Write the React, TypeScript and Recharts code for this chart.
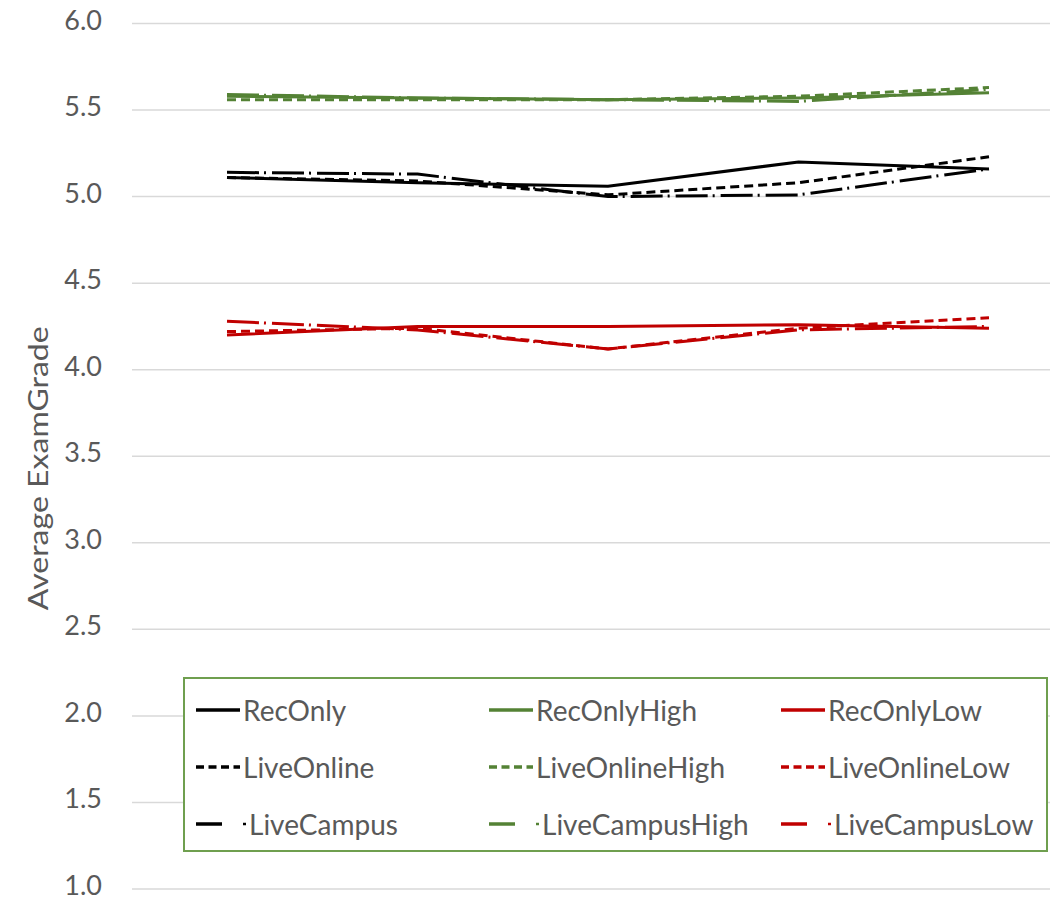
import React from 'react';
import { LineChart, Line, XAxis, YAxis, CartesianGrid, Legend } from 'recharts';

const categories = ['1', '2', '3', '4', '5'];
const yTicks = [1.0, 1.5, 2.0, 2.5, 3.0, 3.5, 4.0, 4.5, 5.0, 5.5, 6.0];

const recOnly = [5.11, 5.08, 5.06, 5.2, 5.16];
const liveOnline = [5.11, 5.09, 5.01, 5.08, 5.23];
const liveCampus = [5.14, 5.13, 5.0, 5.01, 5.16];
const recOnlyHigh = [5.58, 5.57, 5.56, 5.57, 5.6];
const liveOnlineHigh = [5.56, 5.56, 5.56, 5.58, 5.63];
const liveCampusHigh = [5.59, 5.57, 5.56, 5.55, 5.62];
const recOnlyLow = [4.2, 4.25, 4.25, 4.26, 4.24];
const liveOnlineLow = [4.22, 4.24, 4.12, 4.24, 4.3];
const liveCampusLow = [4.28, 4.23, 4.12, 4.23, 4.25];

const BLACK = '#000000';
const GREEN = '#548235';
const RED = '#c00000';
const TEXT = '#595959';
const FONT = 'Lato, "Open Sans", sans-serif';

type Style = 'solid' | 'dash' | 'campus';

const series: { key: string; values: number[]; color: string; style: Style }[] = [
  { key: 'RecOnly', values: recOnly, color: BLACK, style: 'solid' },
  { key: 'RecOnlyHigh', values: recOnlyHigh, color: GREEN, style: 'solid' },
  { key: 'RecOnlyLow', values: recOnlyLow, color: RED, style: 'solid' },
  { key: 'LiveOnline', values: liveOnline, color: BLACK, style: 'dash' },
  { key: 'LiveOnlineHigh', values: liveOnlineHigh, color: GREEN, style: 'dash' },
  { key: 'LiveOnlineLow', values: liveOnlineLow, color: RED, style: 'dash' },
  { key: 'LiveCampus', values: liveCampus, color: BLACK, style: 'campus' },
  { key: 'LiveCampusHigh', values: liveCampusHigh, color: GREEN, style: 'campus' },
  { key: 'LiveCampusLow', values: liveCampusLow, color: RED, style: 'campus' },
];

const dashFor = (s: Style) => (s === 'solid' ? undefined : s === 'dash' ? '9 5' : '32 5 2 6');

const data = categories.map((c, i) => {
  const row: Record<string, number | string> = { cat: c };
  series.forEach((s) => {
    row[s.key] = s.values[i];
  });
  return row;
});

const YTick = (props: any) => {
  const { x, y, payload } = props;
  return (
    <text
      x={x}
      y={y}
      dy={6}
      textAnchor="end"
      fill={TEXT}
      fontSize={27}
      fontFamily={FONT}
    >
      {Number(payload.value).toFixed(1)}
    </text>
  );
};

const YLabel = (props: any) => {
  const vb = props.viewBox || { x: 0, y: 15.5, width: 124, height: 865.5 };
  const cx = vb.x + 29;
  const cy = vb.y + vb.height / 2 + 12;
  return (
    <text
      x={cx}
      y={cy}
      transform={`rotate(-90 ${cx} ${cy})`}
      textAnchor="middle"
      dominantBaseline="central"
      fill={TEXT}
      fontSize={27}
      fontFamily={FONT}
      textLength={284}
      lengthAdjust="spacingAndGlyphs"
    >
      Average ExamGrade
    </text>
  );
};

const LegendIcon = ({ color, style }: { color: string; style: Style }) => {
  if (style === 'campus') {
    return (
      <svg width={54} height={12} style={{ display: 'block', flexShrink: 0 }}>
        <line x1={2} y1={6} x2={28} y2={6} stroke={color} strokeWidth={3.5} />
        <line x1={49} y1={6} x2={52} y2={6} stroke={color} strokeWidth={2.5} />
      </svg>
    );
  }
  return (
    <svg width={48} height={12} style={{ display: 'block', flexShrink: 0 }}>
      <line
        x1={2}
        y1={6}
        x2={46}
        y2={6}
        stroke={color}
        strokeWidth={3.5}
        strokeDasharray={style === 'dash' ? '8 4.5' : undefined}
      />
    </svg>
  );
};

const LegendBox = () => (
  <div
    style={{
      boxSizing: 'border-box',
      width: 865,
      height: 175,
      border: '2px solid #6f9f4f',
      background: '#ffffff',
      display: 'grid',
      gridTemplateColumns: '293px 292px 270px',
      gridTemplateRows: '57px 57px 57px',
      paddingLeft: 9,
      paddingTop: 2,
      fontFamily: FONT,
      fontSize: 28,
      color: TEXT,
    }}
  >
    {series.map((s) => (
      <div key={s.key} style={{ display: 'flex', alignItems: 'center', whiteSpace: 'nowrap' }}>
        <LegendIcon color={s.color} style={s.style} />
        <span style={{ marginLeft: 1 }}>{s.key}</span>
      </div>
    ))}
  </div>
);

export default function App() {
  return (
    <div style={{ position: 'relative', width: 1055, height: 891, background: '#ffffff' }}>
      <style>{`svg.recharts-surface{overflow:visible}`}</style>
      <LineChart
        width={1055}
        height={891}
        data={data}
        margin={{ top: 15.5, right: 13, bottom: 10, left: 0 }}
      >
        <CartesianGrid horizontal vertical={false} stroke="#d9d9d9" strokeWidth={1.5} />
        <XAxis dataKey="cat" hide padding={{ left: 95, right: 61 }} />
        <YAxis
          domain={[1, 6]}
          ticks={yTicks}
          width={124}
          axisLine={false}
          tickLine={false}
          tickMargin={24}
          interval={0}
          tick={<YTick />}
          label={{ content: YLabel } as any}
        />
        <Legend
          layout="horizontal"
          verticalAlign="middle"
          align="center"
          wrapperStyle={{ left: 175, top: 669, width: 865, height: 175 }}
          content={() => <LegendBox />}
        />
        {series.map((s) => (
          <Line
            key={s.key}
            dataKey={s.key}
            stroke={s.color}
            strokeWidth={3}
            strokeDasharray={dashFor(s.style)}
            dot={false}
            activeDot={false}
            isAnimationActive={false}
            type="linear"
          />
        ))}
      </LineChart>
    </div>
  );
}
